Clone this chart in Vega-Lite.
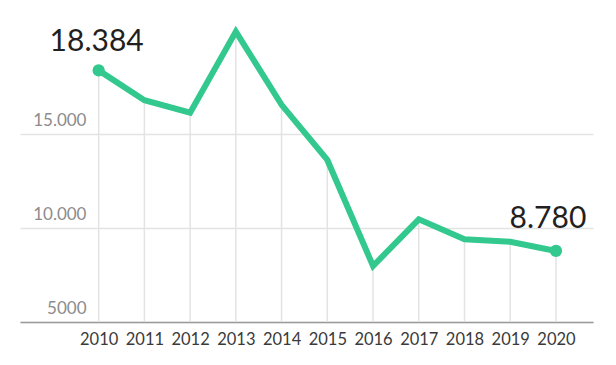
{
  "$schema": "https://vega.github.io/schema/vega-lite/v6.json",
  "width": 573,
  "height": 282,
  "autosize": "none",
  "padding": {"left": 20, "top": 40, "right": 23, "bottom": 43},
  "config": {
    "view": {"stroke": null},
    "font": "Lato",
    "locale": {"number": {"decimal": ",", "thousands": ".", "grouping": [3], "currency": ["", " €"]}}
  },
  "data": {"values": [
    {"year": 2010, "value": 18384},
    {"year": 2011, "value": 16800},
    {"year": 2012, "value": 16130},
    {"year": 2013, "value": 20450},
    {"year": 2014, "value": 16550},
    {"year": 2015, "value": 13620},
    {"year": 2016, "value": 7980},
    {"year": 2017, "value": 10460},
    {"year": 2018, "value": 9400},
    {"year": 2019, "value": 9270},
    {"year": 2020, "value": 8780}
  ]},
  "encoding": {
    "x": {
      "field": "year", "type": "quantitative",
      "scale": {"domain": [2008.28, 2020.81], "nice": false, "zero": false},
      "axis": {
        "title": null, "values": [2010,2011,2012,2013,2014,2015,2016,2017,2018,2019,2020],
        "format": "d", "grid": false, "ticks": false,
        "domainColor": "#9a9a9a", "domainWidth": 1.5,
        "labelColor": "#3a3a3a", "labelFontSize": 16.5, "labelPadding": 9
      }
    }
  },
  "layer": [
    {
      "mark": {"type": "rule", "color": "#e3e3e3", "strokeWidth": 1.5},
      "encoding": {
        "y": {
          "field": "value", "type": "quantitative",
          "scale": {"domain": [5000, 20000], "nice": false, "zero": false},
          "axis": {
            "title": null, "values": [5000, 10000, 15000],
            "labelExpr": "datum.value == 5000 ? '5000' : datum.label",
            "domain": false, "ticks": false, "grid": true,
            "gridColor": "#e3e3e3", "gridWidth": 1.5,
            "labelColor": "#8c8c8c", "labelFontSize": 17,
            "labelAlign": "right", "labelBaseline": "alphabetic",
            "labelPadding": -66, "labelOffset": -9
          }
        },
        "y2": {"datum": 5000}
      }
    },
    {
      "mark": {"type": "line", "color": "#33c98e", "strokeWidth": 6, "strokeJoin": "miter"},
      "encoding": {"y": {"field": "value", "type": "quantitative"}}
    },
    {
      "transform": [{"filter": "datum.year == 2010 || datum.year == 2020"}],
      "mark": {"type": "point", "filled": true, "opacity": 1, "color": "#33c98e", "size": 150},
      "encoding": {"y": {"field": "value", "type": "quantitative"}}
    },
    {
      "transform": [{"filter": "datum.year == 2010"}],
      "mark": {"type": "text", "fontSize": 30, "color": "#231f20", "align": "center", "baseline": "alphabetic", "dx": -2, "dy": -19},
      "encoding": {
        "y": {"field": "value", "type": "quantitative"},
        "text": {"field": "value", "type": "quantitative", "format": ","}
      }
    },
    {
      "transform": [{"filter": "datum.year == 2020"}],
      "mark": {"type": "text", "fontSize": 30, "color": "#231f20", "align": "center", "baseline": "alphabetic", "dx": -8, "dy": -23},
      "encoding": {
        "y": {"field": "value", "type": "quantitative"},
        "text": {"field": "value", "type": "quantitative", "format": ","}
      }
    }
  ]
}
